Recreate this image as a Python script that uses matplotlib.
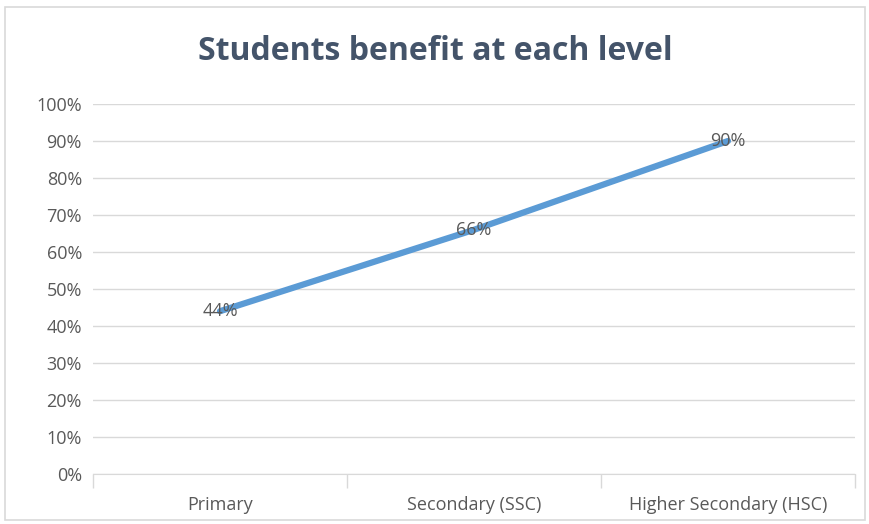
import matplotlib.pyplot as plt
from matplotlib.patches import Rectangle
from matplotlib.ticker import FixedLocator

levels = ["Primary", "Secondary (SSC)", "Higher Secondary (HSC)"]
benefit = [44, 66, 90]
y_ticks = list(range(0, 101, 10))
y_labels = [f"{v}%" for v in y_ticks]

plt.rcParams["font.family"] = ["Open Sans", "DejaVu Sans"]

fig = plt.figure(figsize=(8.7, 5.24), dpi=100)
ax = fig.add_axes([93 / 870, 1 - 474 / 524, 762 / 870, 370 / 524])

# chart frame
fig.add_artist(Rectangle((5 / 870, 4 / 524), 860 / 870, 513 / 524,
                         transform=fig.transFigure, fill=False,
                         edgecolor="#D9D9D9", linewidth=1.2))

x = list(range(len(levels)))
ax.plot(x, benefit, color="#5B9BD5", linewidth=4.5, solid_capstyle="round", zorder=3)
for xi, v in zip(x, benefit):
    ax.text(xi, v, f"{v}%", ha="center", va="center", fontsize=13,
            color="#595959", zorder=4)

ax.set_xlim(-0.5, 2.5)
ax.set_ylim(0, 100)
ax.set_yticks(y_ticks)
ax.set_yticklabels(y_labels)
ax.set_xticks(x)
ax.set_xticklabels(levels)
ax.xaxis.set_minor_locator(FixedLocator([-0.5, 0.5, 1.5, 2.5]))
ax.tick_params(axis="x", which="major", length=0, pad=16, labelsize=13, labelcolor="#595959")
ax.tick_params(axis="x", which="minor", length=10, color="#D9D9D9", width=1)
ax.tick_params(axis="y", length=0, pad=8, labelsize=13, labelcolor="#595959")

ax.grid(axis="y", color="#D9D9D9", linewidth=1)
ax.set_axisbelow(True)
for side in ["top", "right", "left"]:
    ax.spines[side].set_visible(False)
ax.spines["bottom"].set_color("#D9D9D9")

fig.text(0.5, 1 - 51 / 524, "Students benefit at each level", ha="center", va="center",
         fontsize=23, fontweight="bold", color="#44546A")

fig.savefig("out.png", dpi=100)
